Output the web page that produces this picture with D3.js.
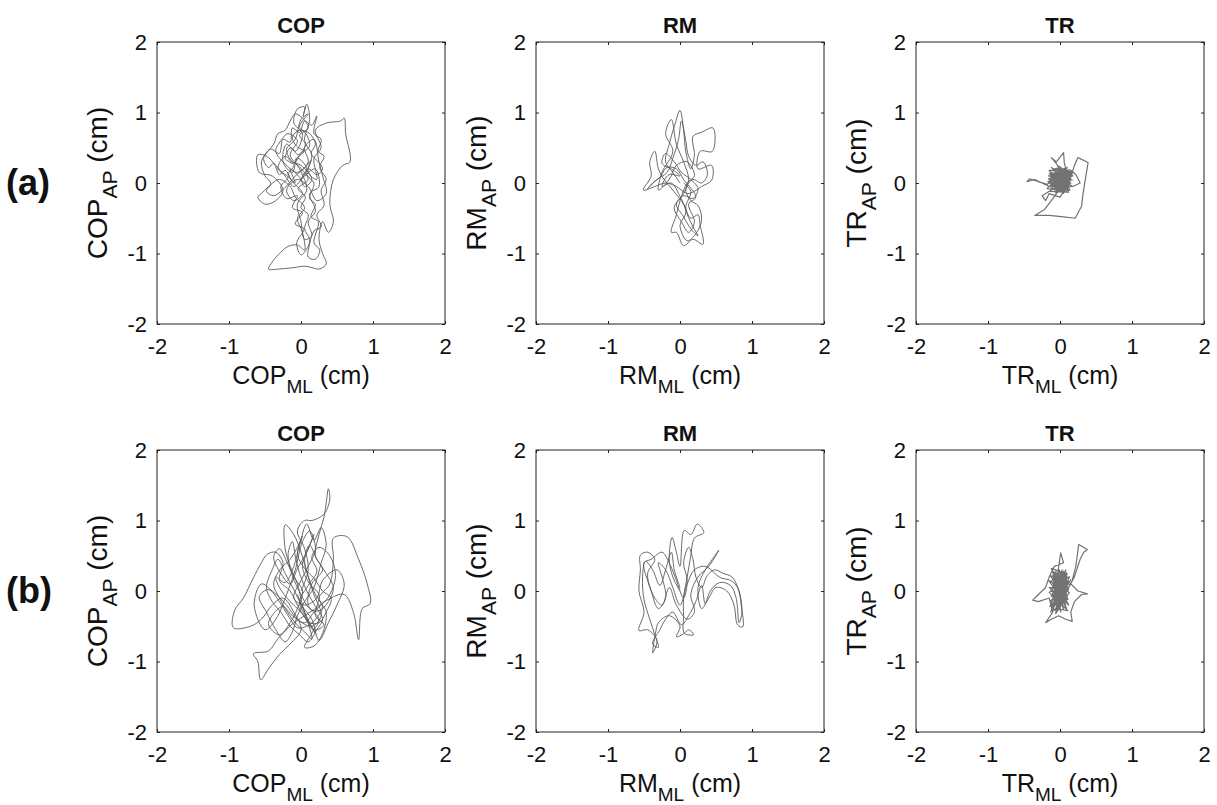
<!DOCTYPE html>
<html>
<head>
<meta charset="utf-8">
<script src="https://cdn.jsdelivr.net/npm/d3@7"></script>
<style>
body { margin: 0; background: #fff; }
text { font-family: "Liberation Sans", Arial, sans-serif; fill: #111; }
.box { fill: none; stroke: #222; stroke-width: 1; }
.axis path { stroke: none; }
.axis line { stroke: #222; }
.axis text { font-size: 22px; fill: #111; font-family: "Liberation Sans", Arial, sans-serif; }
.trace { fill: none; stroke-linejoin: round; }
</style>
</head>
<body>
<script>
var ticks = [-2, -1, 0, 1, 2];
var rowLabels = ["(a)", "(b)"];
var titles = ["COP", "RM", "TR"];

// sway traces in cm, [ML, AP]
var copA = [[0.00,0.05],[0.08,0.20],[-0.05,0.35],[-0.12,0.15],[-0.25,0.30],[-0.20,0.55],[-0.08,0.45],[0.02,0.70],[-0.10,0.85],[-0.05,1.05],[0.05,1.08],[0.03,0.95],[0.08,1.12],[0.12,0.90],[0.05,0.60],[0.15,0.40],[0.10,0.15],[0.22,0.05],[0.18,0.35],[0.28,0.50],[0.20,0.75],[0.35,0.85],[0.55,0.88],[0.60,0.92],[0.62,0.70],[0.68,0.30],[0.58,0.25],[0.45,0.05],[0.40,-0.30],[0.45,-0.55],[0.38,-0.70],[0.30,-0.55],[0.25,-0.80],[0.30,-1.00],[0.35,-1.15],[0.25,-1.22],[0.15,-1.20],[0.05,-1.18],[-0.10,-1.20],[-0.30,-1.22],[-0.45,-1.22],[-0.40,-1.12],[-0.30,-1.00],[-0.18,-0.90],[-0.05,-0.88],[0.05,-0.95],[0.02,-0.70],[-0.05,-0.50],[0.05,-0.35],[-0.08,-0.20],[-0.15,-0.05],[-0.30,0.05],[-0.45,-0.05],[-0.55,-0.15],[-0.60,-0.20],[-0.50,-0.30],[-0.35,-0.25],[-0.25,-0.10],[-0.40,0.10],[-0.58,0.15],[-0.60,0.40],[-0.48,0.38],[-0.35,0.25],[-0.22,0.10],[-0.10,-0.05],[0.05,0.10],[0.20,0.20],[0.25,-0.05],[0.12,-0.15],[0.20,-0.40],[0.10,-0.55],[0.15,-0.75],[0.05,-0.80],[0.00,-0.55],[-0.05,-0.30],[0.08,-0.10],[-0.02,0.20],[-0.15,0.40],[-0.05,0.60],[-0.18,0.70],[-0.28,0.60],[-0.35,0.45],[-0.20,0.25],[-0.05,0.15],[0.10,0.30],[0.05,0.50],[0.18,0.62],[0.25,0.30],[0.30,0.10],[0.35,-0.15],[0.22,-0.25],[0.10,-0.05],[-0.05,0.05],[-0.20,-0.10],[-0.10,-0.25],[0.02,-0.15],[-0.12,0.02],[-0.22,0.18],[-0.30,0.12],[-0.38,0.28],[-0.45,0.22],[-0.52,0.35],[-0.42,0.48],[-0.30,0.42],[-0.25,0.62],[-0.15,0.58],[-0.12,0.78],[-0.02,0.72],[0.05,0.88],[0.15,0.82],[0.22,0.95],[0.18,0.70],[0.28,0.62],[0.24,0.45],[0.32,0.38],[0.26,0.22],[0.35,0.05],[0.28,-0.10],[0.32,-0.32],[0.22,-0.45],[0.28,-0.62],[0.18,-0.68],[0.10,-0.90],[0.00,-1.02],[-0.06,-0.85],[0.04,-0.65],[-0.08,-0.58],[0.02,-0.42],[-0.12,-0.35],[-0.05,-0.18],[-0.20,-0.22],[-0.28,-0.05],[-0.18,0.08],[-0.32,0.20],[-0.22,0.38],[-0.10,0.28],[0.00,0.42],[0.12,0.52],[0.08,0.68],[-0.02,0.80],[0.10,0.98],[0.00,0.90],[-0.08,0.62],[-0.20,0.48],[-0.12,0.30],[0.00,0.25],[0.15,0.05],[0.05,-0.05],[-0.02,0.08],[-0.15,0.20],[-0.08,0.00],[-0.18,0.12],[-0.10,0.25],[-0.22,0.35],[-0.14,0.50],[-0.04,0.40],[0.06,0.55],[-0.02,0.68],[0.10,0.78],[0.02,0.92],[-0.08,0.98],[-0.15,0.88],[-0.22,0.75],[-0.32,0.70],[-0.38,0.55],[-0.46,0.45],[-0.55,0.30],[-0.50,0.10],[-0.42,0.00],[-0.48,-0.12],[-0.38,-0.18],[-0.28,-0.12],[-0.18,-0.02],[-0.06,0.12],[0.06,0.22],[0.14,0.32],[0.08,0.12],[0.18,0.00],[0.12,-0.22],[0.20,-0.30],[0.14,-0.48],[0.24,-0.55],[0.18,-0.85],[0.26,-0.95],[0.20,-1.08],[0.10,-1.05],[0.12,-0.80],[0.05,-0.65],[0.10,-0.45],[0.00,-0.35],[0.06,-0.20],[-0.04,-0.08],[0.10,0.05],[0.02,0.18],[-0.08,0.32],[0.04,0.45],[-0.06,0.52],[-0.12,0.65],[-0.02,0.75],[0.12,0.70],[0.20,0.55],[0.14,0.42],[0.22,0.32],[0.30,0.20],[0.22,0.12],[0.10,0.20],[0.00,0.05]];

var rmA = [[0.00,0.00],[-0.10,0.15],[-0.20,0.30],[-0.15,0.55],[-0.08,0.80],[0.00,1.03],[0.05,0.75],[0.08,0.45],[0.15,0.20],[0.20,0.40],[0.18,0.66],[0.30,0.72],[0.46,0.78],[0.45,0.45],[0.28,0.45],[0.25,0.20],[0.44,0.25],[0.44,0.04],[0.30,-0.05],[0.23,-0.10],[0.10,-0.15],[-0.05,-0.05],[-0.20,0.00],[-0.35,-0.05],[-0.51,-0.10],[-0.40,0.10],[-0.42,0.30],[-0.35,0.45],[-0.30,0.20],[-0.22,0.05],[-0.10,-0.10],[0.05,-0.30],[0.15,-0.50],[0.25,-0.45],[0.28,-0.60],[0.32,-0.87],[0.18,-0.80],[0.05,-0.89],[-0.05,-0.70],[-0.12,-0.70],[-0.05,-0.45],[0.00,-0.25],[0.10,0.00],[0.20,0.10],[0.10,0.30],[-0.05,0.25],[-0.15,0.05],[-0.30,-0.10],[-0.25,0.15],[-0.10,0.45],[-0.20,0.70],[-0.12,0.90],[-0.05,0.55],[0.05,0.30],[0.12,0.05],[0.05,-0.15],[-0.08,-0.35],[0.02,-0.55],[0.12,-0.70],[0.20,-0.55],[0.12,-0.30],[0.22,-0.20],[0.05,0.05],[-0.05,0.20],[-0.18,0.22],[-0.28,0.08],[-0.38,0.00],[-0.45,-0.08],[-0.32,0.05],[-0.18,0.15],[-0.10,0.35],[-0.02,0.62],[0.02,0.88],[0.08,0.60],[0.12,0.38],[0.22,0.25],[0.32,0.30],[0.38,0.12],[0.30,0.00],[0.18,0.05],[0.08,-0.08],[0.15,-0.25],[0.25,-0.32],[0.30,-0.52],[0.22,-0.72],[0.10,-0.82],[0.00,-0.60],[0.08,-0.42],[-0.02,-0.15],[-0.12,0.00],[-0.25,-0.05],[-0.15,0.12],[0.00,0.10],[-0.12,0.20],[-0.25,0.28],[-0.20,0.42],[-0.08,0.30],[0.02,0.15],[0.15,0.05],[0.25,-0.08],[0.18,-0.22],[0.05,-0.18],[-0.05,-0.30],[0.05,-0.48],[0.15,-0.65],[0.25,-0.75],[0.18,-0.62],[0.08,-0.35],[0.15,-0.12],[0.05,0.00]];

var trA = [[0.00,0.00],[0.08,0.10],[-0.06,0.05],[0.10,-0.04],[-0.09,0.12],[0.05,-0.08],[-0.12,-0.02],[0.12,0.14],[-0.03,0.16],[0.07,-0.12],[-0.10,0.08],[0.14,0.02],[-0.05,-0.10],[0.02,0.18],[-0.14,0.04],[0.09,0.06],[-0.02,-0.06],[0.11,0.15],[-0.08,-0.05],[0.06,0.12],[-0.15,-0.05],[-0.25,0.00],[-0.35,0.05],[-0.46,0.02],[-0.42,0.06],[-0.30,0.02],[-0.18,-0.02],[-0.05,0.08],[0.04,-0.03],[-0.07,0.14],[0.13,-0.06],[-0.11,0.00],[0.03,0.10],[-0.04,0.26],[-0.12,0.36],[-0.05,0.30],[0.05,0.43],[0.06,0.28],[0.10,0.15],[-0.02,0.02],[0.08,-0.10],[0.15,0.08],[0.20,0.25],[0.25,0.36],[0.39,0.29],[0.36,0.10],[0.32,-0.15],[0.30,-0.33],[0.21,-0.50],[0.05,-0.48],[-0.15,-0.46],[-0.35,-0.46],[-0.22,-0.38],[-0.12,-0.25],[-0.05,-0.15],[0.04,-0.05],[-0.08,0.04],[0.10,0.09],[-0.03,-0.02],[0.07,0.17],[-0.12,0.10],[0.12,-0.02],[0.00,0.12],[-0.06,-0.08],[0.09,0.03],[-0.25,-0.18],[-0.20,-0.25],[-0.15,-0.15],[0.00,-0.20],[0.05,-0.12],[-0.04,0.06],[0.11,0.11],[-0.09,0.02],[0.06,-0.06],[0.15,0.18],[0.22,0.12],[0.28,0.00],[0.18,-0.05],[0.02,0.04],[0.03,0.11],[-0.10,-0.03],[0.12,0.07],[-0.04,0.19],[0.06,-0.09],[-0.13,0.09],[0.10,0.16],[-0.07,-0.07],[0.14,-0.01],[-0.01,0.13],[0.08,0.00],[-0.11,0.15],[0.04,-0.11],[-0.14,0.01],[0.11,0.12],[-0.05,0.03],[0.09,-0.07],[-0.08,0.17],[0.13,0.05],[-0.02,-0.09],[0.06,0.19],[-0.12,-0.04],[0.10,0.02],[-0.03,0.10],[0.07,-0.02],[-0.09,0.13],[0.12,0.16],[-0.06,-0.01],[0.02,0.08],[0.15,0.10],[-0.10,0.06],[0.05,0.14],[-0.01,-0.04],[0.09,0.18],[-0.07,0.09],[0.11,-0.08],[-0.13,0.12],[0.04,0.03],[-0.04,-0.12],[0.08,0.13],[-0.16,0.10],[0.17,0.04],[-0.12,0.22],[0.14,-0.10],[-0.18,-0.08],[0.10,0.22],[-0.06,-0.14],[0.16,0.16],[-0.15,0.18],[0.05,-0.15],[-0.17,0.02],[0.18,0.10],[-0.02,0.24],[0.12,-0.13],[-0.14,-0.12],[0.08,0.20],[-0.10,0.20],[0.16,-0.05],[-0.08,-0.10],[0.13,0.19],[-0.16,0.06],[0.03,-0.13],[0.15,0.00],[-0.11,0.14],[0.09,-0.11],[-0.05,0.21],[0.17,0.13],[-0.13,-0.06],[0.01,0.17],[0.12,-0.04],[-0.09,0.07],[0.06,0.16],[-0.15,0.13],[0.14,0.08],[-0.04,-0.11],[0.10,-0.01],[-0.12,0.03],[0.07,0.21],[-0.07,0.11],[0.11,0.06]];

var copB = [[0.00,0.00],[0.10,0.30],[0.05,0.60],[-0.05,0.85],[0.05,1.00],[0.15,1.00],[0.27,1.05],[0.34,1.12],[0.40,1.30],[0.38,1.45],[0.35,1.25],[0.32,1.05],[0.25,0.80],[0.20,0.50],[0.30,0.30],[0.15,0.10],[0.10,-0.20],[0.25,-0.40],[0.15,-0.60],[0.05,-0.80],[0.18,-0.78],[0.30,-0.60],[0.35,-0.30],[0.25,-0.10],[0.40,0.10],[0.45,0.45],[0.45,0.75],[0.64,0.77],[0.80,0.45],[0.92,0.10],[0.96,-0.18],[0.85,-0.25],[0.80,-0.69],[0.73,-0.31],[0.60,-0.05],[0.36,-0.13],[0.20,-0.25],[0.05,-0.35],[-0.10,-0.45],[-0.25,-0.60],[-0.33,-0.69],[-0.45,-0.85],[-0.66,-0.89],[-0.60,-1.00],[-0.56,-1.26],[-0.45,-1.10],[-0.30,-0.90],[-0.15,-0.75],[0.00,-0.55],[-0.10,-0.30],[-0.25,-0.10],[-0.40,-0.20],[-0.55,-0.40],[-0.70,-0.50],[-0.94,-0.52],[-0.92,-0.27],[-0.80,-0.10],[-0.66,0.19],[-0.55,0.40],[-0.47,0.52],[-0.35,0.55],[-0.25,0.40],[-0.30,0.15],[-0.15,0.00],[-0.05,-0.20],[0.10,-0.45],[0.20,-0.60],[0.05,-0.30],[-0.05,0.10],[-0.15,0.35],[-0.22,0.60],[-0.22,0.94],[-0.10,0.80],[0.00,0.55],[0.10,0.20],[0.18,-0.05],[0.28,-0.35],[0.15,-0.50],[-0.05,-0.40],[-0.20,-0.20],[-0.40,0.00],[-0.55,0.10],[-0.65,-0.20],[-0.50,-0.55],[-0.35,-0.40],[-0.20,-0.05],[-0.08,0.30],[0.02,0.70],[0.12,0.85],[0.20,0.60],[0.10,0.35],[0.00,0.15],[-0.10,-0.10],[0.05,-0.20],[0.22,-0.10],[0.30,0.15],[0.50,0.30],[0.60,0.10],[0.50,-0.20],[0.38,-0.45],[0.25,-0.70],[0.15,-0.40],[0.02,-0.22],[-0.10,0.02],[-0.22,0.25],[-0.32,0.45],[-0.40,0.30],[-0.48,0.05],[-0.40,-0.15],[-0.28,-0.30],[-0.15,-0.50],[-0.02,-0.62],[0.10,-0.72],[0.22,-0.55],[0.30,-0.40],[0.20,-0.22],[0.08,0.00],[-0.02,0.25],[-0.08,0.50],[-0.12,0.70],[-0.18,0.52],[-0.12,0.22],[0.00,-0.05],[0.12,-0.25],[0.25,-0.28],[0.38,-0.15],[0.45,0.05],[0.35,0.25],[0.22,0.45],[0.12,0.65],[0.05,0.45],[0.12,0.15],[0.20,-0.05],[0.30,-0.22],[0.22,-0.38],[0.08,-0.50],[-0.05,-0.52],[-0.18,-0.35],[-0.30,-0.15],[-0.45,0.02],[-0.58,-0.08],[-0.48,-0.30],[-0.35,-0.55],[-0.22,-0.72],[-0.12,-0.58],[-0.05,-0.35],[0.05,-0.15],[0.18,0.05],[0.28,0.40],[0.35,0.65],[0.28,0.90],[0.18,0.72],[0.08,0.95],[-0.02,0.65],[-0.10,0.35],[-0.22,0.12],[-0.35,0.20],[-0.30,0.05],[-0.15,-0.15],[0.00,-0.30],[0.12,-0.45],[0.25,-0.45],[0.35,-0.30],[0.42,-0.10],[0.30,0.00],[0.18,0.18],[0.05,0.32],[-0.05,0.52],[0.02,0.78],[-0.05,0.62],[-0.15,0.45],[-0.28,0.32],[-0.38,0.10],[-0.30,-0.10],[-0.20,-0.28],[-0.08,-0.45],[0.05,-0.58],[0.15,-0.68],[0.08,-0.40],[-0.02,-0.15],[0.10,0.08],[0.22,0.28],[0.15,0.48],[0.25,0.62],[0.40,0.50],[0.48,0.22],[0.40,-0.05],[0.30,-0.18],[0.18,-0.30],[0.05,-0.45],[-0.12,-0.35],[-0.25,-0.22],[-0.38,-0.32],[-0.45,-0.48],[-0.30,-0.62],[-0.15,-0.45],[-0.05,-0.25],[0.02,0.00],[-0.10,0.20],[-0.20,0.42],[-0.30,0.60],[-0.38,0.48],[-0.28,0.25],[-0.15,0.10],[-0.05,0.32],[0.08,0.55],[0.18,0.80],[0.10,0.60],[0.02,0.35],[0.12,0.10],[0.25,-0.05],[0.20,-0.35],[0.32,-0.48],[0.18,-0.55],[0.05,-0.30],[-0.05,-0.05]];

var rmB = [[0.00,0.00],[-0.10,0.20],[-0.15,0.45],[-0.11,0.76],[-0.05,0.55],[0.00,0.35],[0.06,0.86],[0.15,0.80],[0.24,0.95],[0.33,0.83],[0.20,0.75],[0.15,0.50],[0.10,0.20],[0.05,-0.10],[0.05,-0.35],[0.06,-0.60],[0.19,-0.62],[0.12,-0.55],[0.06,-0.60],[-0.05,-0.65],[0.00,-0.50],[-0.15,-0.35],[-0.30,-0.45],[-0.34,-0.60],[-0.38,-0.88],[-0.32,-0.70],[-0.45,-0.55],[-0.57,-0.56],[-0.50,-0.30],[-0.57,0.00],[-0.55,0.30],[-0.55,0.51],[-0.45,0.55],[-0.35,0.45],[-0.45,0.25],[-0.40,0.00],[-0.30,-0.25],[-0.20,-0.10],[-0.25,0.20],[-0.30,0.40],[-0.20,0.30],[-0.10,0.05],[0.00,-0.20],[0.10,0.10],[0.20,0.30],[0.35,0.35],[0.56,0.19],[0.70,0.15],[0.80,0.05],[0.85,-0.20],[0.87,-0.51],[0.80,-0.48],[0.75,-0.20],[0.65,0.00],[0.50,0.05],[0.40,-0.10],[0.30,-0.25],[0.25,0.05],[0.35,0.30],[0.45,0.45],[0.54,0.58],[0.40,0.35],[0.25,0.20],[0.15,-0.05],[0.20,-0.30],[0.10,-0.40],[-0.05,-0.20],[-0.15,0.05],[-0.25,-0.20],[-0.35,-0.10],[-0.45,0.15],[-0.50,0.40],[-0.40,0.45],[-0.25,0.55],[-0.15,0.40],[-0.05,0.15],[0.05,-0.10],[0.10,0.15],[0.05,0.40],[0.12,0.62],[0.18,0.45],[0.22,0.20],[0.30,0.05],[0.38,0.22],[0.48,0.30],[0.60,0.25],[0.72,0.20],[0.82,0.00],[0.86,-0.30],[0.82,-0.45],[0.78,-0.10],[0.70,0.08],[0.55,0.12],[0.42,0.00],[0.35,-0.18],[0.30,0.08],[0.22,-0.15],[0.12,-0.35],[0.02,-0.48],[-0.10,-0.30],[-0.20,-0.40],[-0.28,-0.55],[-0.38,-0.75],[-0.30,-0.80],[-0.35,-0.62],[-0.42,-0.40],[-0.50,-0.12],[-0.52,0.20],[-0.48,0.42],[-0.38,0.30],[-0.28,0.08],[-0.20,0.30],[-0.12,0.55],[-0.08,0.30],[0.00,0.05]];

var trB = [[0.00,0.00],[-0.05,0.15],[0.06,-0.10],[-0.10,0.05],[0.08,0.20],[-0.03,-0.22],[0.10,0.02],[-0.12,-0.08],[0.04,0.25],[-0.08,0.10],[0.07,-0.18],[-0.02,0.08],[0.12,0.12],[-0.14,-0.15],[0.03,-0.05],[-0.06,0.28],[0.09,-0.25],[-0.11,0.18],[0.05,0.05],[-0.04,-0.28],[0.17,0.15],[0.22,0.35],[0.26,0.66],[0.38,0.59],[0.33,0.55],[0.28,0.45],[0.20,0.20],[0.12,0.05],[-0.05,0.12],[0.01,0.54],[0.05,0.40],[-0.08,0.35],[-0.15,0.20],[-0.20,0.05],[-0.30,-0.05],[-0.38,-0.13],[-0.30,-0.15],[-0.15,-0.10],[-0.10,-0.30],[-0.20,-0.45],[-0.12,-0.40],[-0.02,-0.35],[0.08,-0.40],[0.17,-0.43],[0.15,-0.30],[0.20,-0.15],[0.30,-0.05],[0.38,-0.04],[0.25,0.00],[0.10,0.15],[-0.06,-0.02],[0.07,0.10],[-0.09,-0.20],[0.02,0.22],[-0.13,0.00],[0.11,-0.12],[-0.01,0.30],[-0.07,-0.12],[0.06,0.16],[-0.10,0.22],[0.04,-0.20],[-0.03,0.04],[0.09,0.26],[-0.12,-0.24],[0.00,-0.15],[0.08,0.06],[-0.06,0.20],[0.05,-0.26],[-0.09,0.12],[0.11,0.00],[-0.02,-0.08],[0.03,0.18],[-0.11,-0.05],[0.07,-0.06],[-0.05,0.24],[0.01,-0.30],[-0.08,0.02],[0.06,0.12],[-0.03,-0.18],[0.10,0.20],[-0.13,0.14],[0.02,-0.02],[-0.04,0.09],[0.08,-0.14],[-0.10,-0.28],[0.05,0.28],[0.00,0.05],[-0.15,0.05],[0.12,-0.20],[-0.10,0.28],[0.14,0.08],[-0.14,-0.22],[0.08,0.30],[-0.06,-0.32],[0.13,-0.02],[-0.16,0.15],[0.04,-0.12],[-0.12,0.32],[0.10,0.24],[-0.08,-0.18],[0.15,0.16],[-0.13,-0.30],[0.02,0.12],[-0.04,-0.25],[0.11,-0.28],[-0.15,-0.02],[0.06,0.20],[-0.09,0.26],[0.12,0.02],[-0.11,-0.14],[0.03,0.30],[-0.02,-0.20],[0.09,-0.08],[-0.14,0.22],[0.07,0.14],[-0.07,-0.28],[0.13,0.20],[-0.10,0.08],[0.00,-0.10],[0.05,0.26],[-0.12,-0.18],[0.10,-0.16],[-0.05,0.16]];

var traces = [[copA, rmA, trA], [copB, rmB, trB]];

var W = 1217, H = 805;
var colX = [157, 536, 916];
var rowY = [42, 450];
var pw = 288, ph = 282;

var svg = d3.select("body").append("svg")
    .attr("width", W)
    .attr("height", H);

var x = d3.scaleLinear().domain([-2, 2]).range([0, pw]);
var y = d3.scaleLinear().domain([-2, 2]).range([ph, 0]);

var smooth = d3.line()
    .curve(d3.curveCatmullRom.alpha(0.5))
    .x(function(d) { return x(d[0]); })
    .y(function(d) { return y(d[1]); });
var straight = d3.line()
    .x(function(d) { return x(d[0]); })
    .y(function(d) { return y(d[1]); });

var fmt = function(d) { return String(d); };

rowLabels.forEach(function(lab, r) {
  svg.append("text")
      .attr("x", 6)
      .attr("y", rowY[r] + ph / 2 + 12)
      .style("font-size", "36px")
      .style("font-weight", "bold")
      .text(lab);
});

traces.forEach(function(row, r) {
  row.forEach(function(data, c) {
    var name = titles[c];
    var g = svg.append("g")
        .attr("transform", "translate(" + colX[c] + "," + rowY[r] + ")");

    g.append("path")
        .datum(data)
        .attr("class", "trace")
        .attr("stroke", c == 2 ? "#727272" : "#5a5a5a")
        .attr("stroke-width", c == 2 ? 1.2 : 0.9)
        .attr("d", c == 2 ? straight : smooth);

    g.append("g").attr("class", "axis")
        .attr("transform", "translate(0," + ph + ")")
        .call(d3.axisBottom(x).tickValues(ticks).tickSize(-3).tickPadding(14).tickFormat(fmt));
    g.append("g").attr("class", "axis")
        .call(d3.axisLeft(y).tickValues(ticks).tickSize(-3).tickPadding(10).tickFormat(fmt));
    g.append("g").attr("class", "axis")
        .call(d3.axisTop(x).tickValues(ticks).tickSize(-3).tickFormat(""));
    g.append("g").attr("class", "axis")
        .attr("transform", "translate(" + pw + ",0)")
        .call(d3.axisRight(y).tickValues(ticks).tickSize(-3).tickFormat(""));

    g.append("rect").attr("class", "box")
        .attr("width", pw).attr("height", ph);

    g.append("text")
        .attr("x", pw / 2)
        .attr("y", -9)
        .attr("text-anchor", "middle")
        .style("font-size", "22px")
        .style("font-weight", "bold")
        .text(name);

    // x label with subscript
    var xl = g.append("text")
        .attr("x", pw / 2)
        .attr("y", ph + 60)
        .attr("text-anchor", "middle")
        .style("font-size", "25px");
    xl.append("tspan").text(name);
    xl.append("tspan").attr("dy", 9).style("font-size", "19px").text("ML");
    xl.append("tspan").attr("dy", -9).text(" (cm)");

    var yl = g.append("text")
        .attr("transform", "translate(-50," + (ph / 2) + ") rotate(-90)")
        .attr("text-anchor", "middle")
        .style("font-size", "28px");
    yl.append("tspan").text(name);
    yl.append("tspan").attr("dy", 10).style("font-size", "21px").text("AP");
    yl.append("tspan").attr("dy", -10).text(" (cm)");
  });
});
</script>
</body>
</html>
